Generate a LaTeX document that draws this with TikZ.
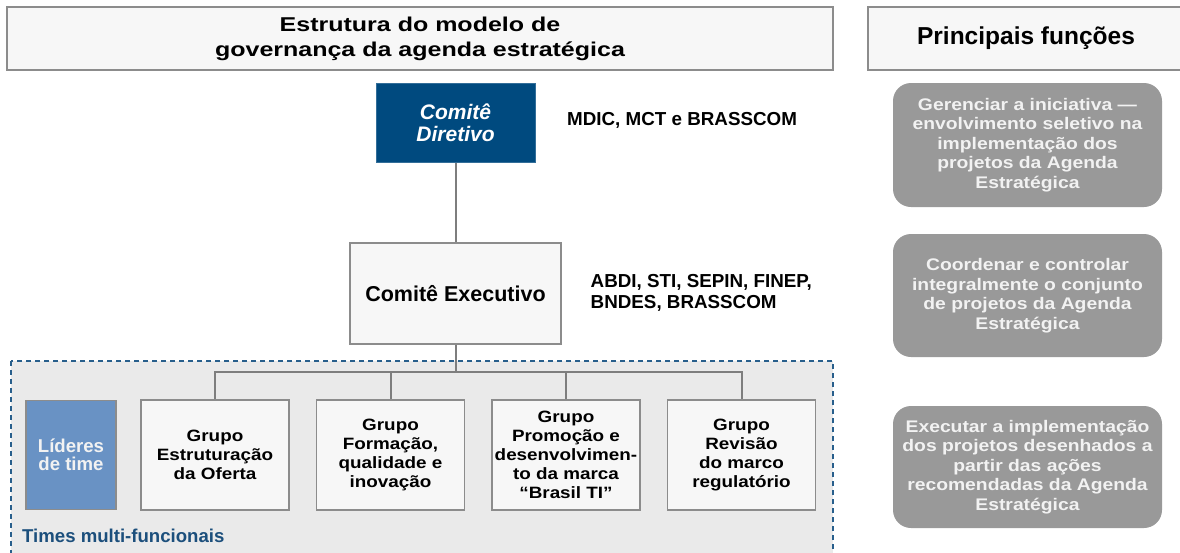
\documentclass[tikz,border=0pt]{standalone}
\usepackage{fontspec}
\setmainfont{Liberation Sans}
\newfontfamily\widefont{Liberation Sans}[FakeStretch=1.15]
\newfontfamily\titlefont{Liberation Sans}[FakeStretch=1.25]
\usetikzlibrary{positioning,calc}
\definecolor{dirblue}{RGB}{0,74,127}
\definecolor{lidblue}{RGB}{105,146,196}
\definecolor{boxgray}{RGB}{140,140,140}
\definecolor{boxfill}{RGB}{247,247,247}
\definecolor{timefill}{RGB}{234,234,234}
\definecolor{dashblue}{RGB}{40,95,140}
\definecolor{funcgray}{RGB}{153,153,153}
\definecolor{functext}{RGB}{242,242,242}
\definecolor{timetext}{RGB}{28,79,124}
\tikzset{
  hdr/.style  = { draw=boxgray, line width=2pt, fill=boxfill, inner sep=0pt, align=center },
  dirbox/.style = { fill=dirblue, draw=dirblue!80, line width=1pt, text=white, inner sep=0pt, align=center,
    minimum width=159pt, minimum height=79pt, font=\bfseries\itshape\fontsize{21}{22}\selectfont },
  exebox/.style = { draw=boxgray, line width=1.5pt, fill=boxfill, inner sep=0pt,
    minimum width=211pt, minimum height=101pt, font=\bfseries\fontsize{21.5}{22}\selectfont },
  grp/.style  = { draw=boxgray, line width=1.5pt, fill=boxfill, inner sep=0pt, align=center,
    minimum width=148pt, minimum height=110pt, font=\widefont\bfseries\fontsize{16.4}{19}\selectfont },
  lider/.style = { draw=boxgray, line width=1.5pt, fill=lidblue, text=functext, inner sep=0pt, align=center,
    minimum width=90pt, minimum height=109pt, font=\bfseries\fontsize{18.6}{18.3}\selectfont },
  func/.style = { fill=funcgray, rounded corners=18pt, text=functext, inner sep=0pt, align=center,
    minimum width=269pt, font=\widefont\bfseries\fontsize{16.8}{19.5}\selectfont },
  memb/.style = { anchor=west, align=left, inner sep=0pt, font=\bfseries\fontsize{18.8}{20.5}\selectfont },
  conn/.style = { draw=boxgray!90!black, line width=2pt }
}
\begin{document}
\begin{tikzpicture}[x=1pt,y=-1pt]
  \useasboundingbox (0,0) rectangle (1180,552);
  % cabecalhos
  \node[hdr, minimum width=826pt, minimum height=63pt,
    font=\titlefont\bfseries\fontsize{20}{25}\selectfont] (tit) at (420,38.5)
    {Estrutura do modelo de\\governança da agenda estratégica};
  \node[hdr, minimum width=316pt, minimum height=63pt,
    font=\bfseries\fontsize{24.5}{25}\selectfont] (princ) at (1026,38.5) {Principais funções};
  % comites
  \node[dirbox] (dir) at (455.5,122.5) {Comitê\\Diretivo};
  \node[memb] (mdic) at (567,120) {MDIC, MCT e BRASSCOM};
  \node[exebox] (exe) at (455.5,293.3) {Comitê Executivo};
  \node[memb] (abdi) at (590.5,293) {ABDI, STI, SEPIN, FINEP,\\BNDES, BRASSCOM};
  \draw[conn] (dir) -- (exe);
  % times multi-funcionais
  \draw[dashblue, fill=timefill, line width=1.3pt, dash pattern=on 5pt off 4pt] (11,361) rectangle (833,575);
  \coordinate (bar) at (455.5,372);
  \node[lider] (lid) at (71,455) {Líderes\\de time};
  \node[grp] (g1) at (215,455) {Grupo\\Estruturação\\da Oferta};
  \node[grp, right=26pt of g1] (g2) {Grupo\\Formação,\\qualidade e\\inovação};
  \node[grp, right=26pt of g2] (g3) {Grupo\\Promoção e\\desenvolvimen-\\to da marca\\“Brasil TI”};
  \node[grp, right=26pt of g3] (g4) {Grupo\\Revisão\\do marco\\regulatório};
  \node[anchor=base west, inner sep=0pt, text=timetext, font=\bfseries\fontsize{18.6}{19}\selectfont]
    (times) at (22,542) {Times multi-funcionais};
  \draw[conn] (exe) -- (bar);
  \draw[conn] (g1.north) |- (bar) -| (g4.north);
  \foreach \g in {g2,g3}
    \draw[conn] (\g.north) -- (\g.north |- bar);
  % funcoes
  \node[func, minimum height=124pt] (f1) at (1027.5,145)
    {Gerenciar a iniciativa —\\envolvimento seletivo na\\implementação dos\\projetos da Agenda\\Estratégica};
  \node[func, minimum height=123pt] (f2) at (1027.5,295.5)
    {Coordenar e controlar\\integralmente o conjunto\\de projetos da Agenda\\Estratégica};
  \node[func, minimum height=122pt] (f3) at (1027.5,467)
    {Executar a implementação\\dos projetos desenhados a\\partir das ações\\recomendadas da Agenda\\Estratégica};
\end{tikzpicture}
\end{document}
